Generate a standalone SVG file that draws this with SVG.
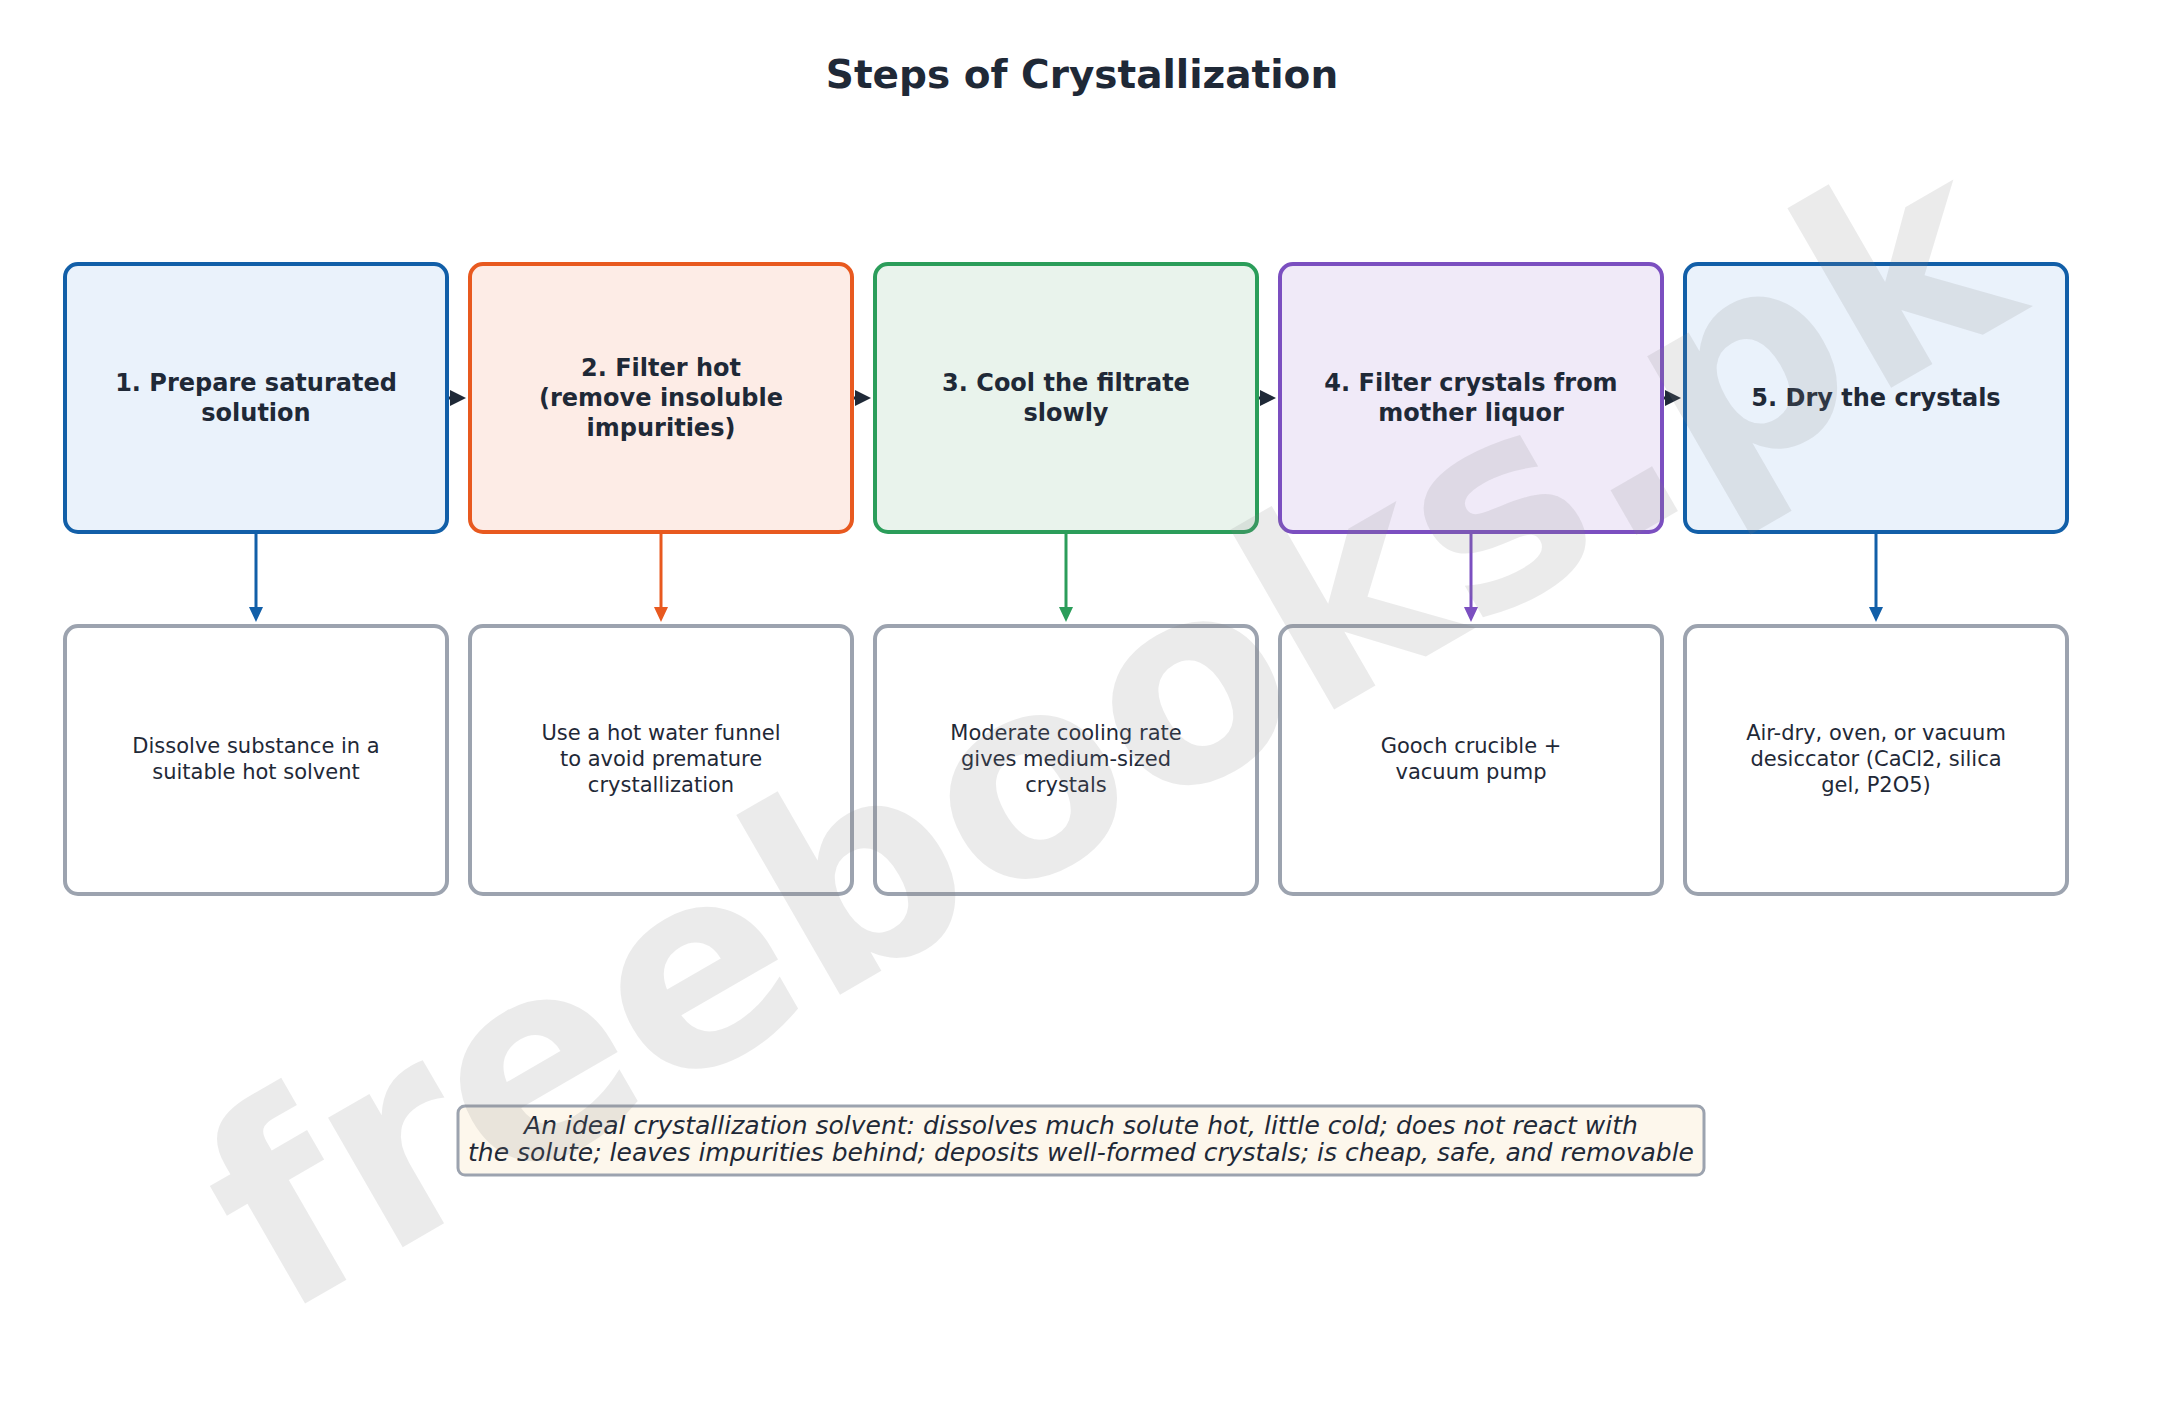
<svg xmlns="http://www.w3.org/2000/svg" width="2179" height="1419" viewBox="0 0 2179 1419">
<style>
  text { font-family: "DejaVu Sans", "Liberation Sans", sans-serif; fill: #1f2937; }
  .title { font-size: 39px; font-weight: bold; text-anchor: middle; }
  .head { font-size: 24px; font-weight: bold; text-anchor: middle; }
  .desc { font-size: 21px; text-anchor: middle; }
  .note { font-size: 25px; font-style: italic; text-anchor: middle; }
  .step { stroke-width: 4; }
  .detail { fill: #ffffff; stroke: #9ca3af; stroke-width: 4; }
  .conn { fill: none; stroke-width: 3; }
  .wm { font-family: "DejaVu Sans", sans-serif; font-size: 273px; font-weight: bold; fill: #808080; fill-opacity: 0.16; }
</style>
<defs>
  <marker id="hd" viewBox="0 0 16 16" markerWidth="16" markerHeight="16" refX="8" refY="8" orient="auto" markerUnits="userSpaceOnUse"><path d="M0,0 L16,8 L0,16 z" fill="#1f2937"/></marker>
  <marker id="vb" viewBox="0 0 15 14" markerWidth="15" markerHeight="14" refX="5" refY="7" orient="auto" markerUnits="userSpaceOnUse"><path d="M0,0 L15,7 L0,14 z" fill="#125fa8"/></marker>
  <marker id="vo" viewBox="0 0 15 14" markerWidth="15" markerHeight="14" refX="5" refY="7" orient="auto" markerUnits="userSpaceOnUse"><path d="M0,0 L15,7 L0,14 z" fill="#e8591f"/></marker>
  <marker id="vg" viewBox="0 0 15 14" markerWidth="15" markerHeight="14" refX="5" refY="7" orient="auto" markerUnits="userSpaceOnUse"><path d="M0,0 L15,7 L0,14 z" fill="#2b9d5a"/></marker>
  <marker id="vp" viewBox="0 0 15 14" markerWidth="15" markerHeight="14" refX="5" refY="7" orient="auto" markerUnits="userSpaceOnUse"><path d="M0,0 L15,7 L0,14 z" fill="#7b4fc0"/></marker>
</defs>
<rect width="2179" height="1419" fill="#ffffff"/>
<text class="title" x="1082" y="88">Steps of Crystallization</text>

<g id="step1">
  <rect class="step" x="65" y="264" width="382" height="268" rx="13" fill="#eaf2fb" stroke="#125fa8"/>
  <text class="head" x="256" y="391">1. Prepare saturated</text>
  <text class="head" x="256" y="421">solution</text>
</g>
<g id="step2">
  <rect class="step" x="470" y="264" width="382" height="268" rx="13" fill="#fdece6" stroke="#e8591f"/>
  <text class="head" x="661" y="376">2. Filter hot</text>
  <text class="head" x="661" y="406">(remove insoluble</text>
  <text class="head" x="661" y="436">impurities)</text>
</g>
<g id="step3">
  <rect class="step" x="875" y="264" width="382" height="268" rx="13" fill="#e9f3ec" stroke="#2b9d5a"/>
  <text class="head" x="1066" y="391">3. Cool the filtrate</text>
  <text class="head" x="1066" y="421">slowly</text>
</g>
<g id="step4">
  <rect class="step" x="1280" y="264" width="382" height="268" rx="13" fill="#f0eaf8" stroke="#7b4fc0"/>
  <text class="head" x="1471" y="391">4. Filter crystals from</text>
  <text class="head" x="1471" y="421">mother liquor</text>
</g>
<g id="step5">
  <rect class="step" x="1685" y="264" width="382" height="268" rx="13" fill="#eaf2fb" stroke="#125fa8"/>
  <text class="head" x="1876" y="406">5. Dry the crystals</text>
</g>

<g id="detail1">
  <rect class="detail" x="65" y="626" width="382" height="268" rx="13"/>
  <text class="desc" x="256" y="753">Dissolve substance in a</text>
  <text class="desc" x="256" y="779">suitable hot solvent</text>
</g>
<g id="detail2">
  <rect class="detail" x="470" y="626" width="382" height="268" rx="13"/>
  <text class="desc" x="661" y="740">Use a hot water funnel</text>
  <text class="desc" x="661" y="766">to avoid premature</text>
  <text class="desc" x="661" y="792">crystallization</text>
</g>
<g id="detail3">
  <rect class="detail" x="875" y="626" width="382" height="268" rx="13"/>
  <text class="desc" x="1066" y="740">Moderate cooling rate</text>
  <text class="desc" x="1066" y="766">gives medium-sized</text>
  <text class="desc" x="1066" y="792">crystals</text>
</g>
<g id="detail4">
  <rect class="detail" x="1280" y="626" width="382" height="268" rx="13"/>
  <text class="desc" x="1471" y="753">Gooch crucible +</text>
  <text class="desc" x="1471" y="779">vacuum pump</text>
</g>
<g id="detail5">
  <rect class="detail" x="1685" y="626" width="382" height="268" rx="13"/>
  <text class="desc" x="1876" y="740">Air-dry, oven, or vacuum</text>
  <text class="desc" x="1876" y="766">desiccator (CaCl2, silica</text>
  <text class="desc" x="1876" y="792">gel, P2O5)</text>
</g>

<g id="connectors">
  <path class="conn" stroke="#1f2937" stroke-width="2" d="M449,398 L458,398" marker-end="url(#hd)"/>
  <path class="conn" stroke="#1f2937" stroke-width="2" d="M854,398 L863,398" marker-end="url(#hd)"/>
  <path class="conn" stroke="#1f2937" stroke-width="2" d="M1259,398 L1268,398" marker-end="url(#hd)"/>
  <path class="conn" stroke="#1f2937" stroke-width="2" d="M1664,398 L1673,398" marker-end="url(#hd)"/>
  <path class="conn" stroke="#125fa8" d="M256,534 L256,612" marker-end="url(#vb)"/>
  <path class="conn" stroke="#e8591f" d="M661,534 L661,612" marker-end="url(#vo)"/>
  <path class="conn" stroke="#2b9d5a" d="M1066,534 L1066,612" marker-end="url(#vg)"/>
  <path class="conn" stroke="#7b4fc0" d="M1471,534 L1471,612" marker-end="url(#vp)"/>
  <path class="conn" stroke="#125fa8" d="M1876,534 L1876,612" marker-end="url(#vb)"/>
</g>

<g id="note">
  <rect x="458" y="1106" width="1246" height="69" rx="7" fill="#fdf7ec" stroke="#9ca3af" stroke-width="3"/>
  <text class="note" x="1081" y="1134">An ideal crystallization solvent: dissolves much solute hot, little cold; does not react with</text>
  <text class="note" x="1081" y="1161">the solute; leaves impurities behind; deposits well-formed crystals; is cheap, safe, and removable</text>
</g>

<text class="wm" x="280" y="1318" transform="rotate(-30 280 1318)">freebooks.pk</text>
</svg>
